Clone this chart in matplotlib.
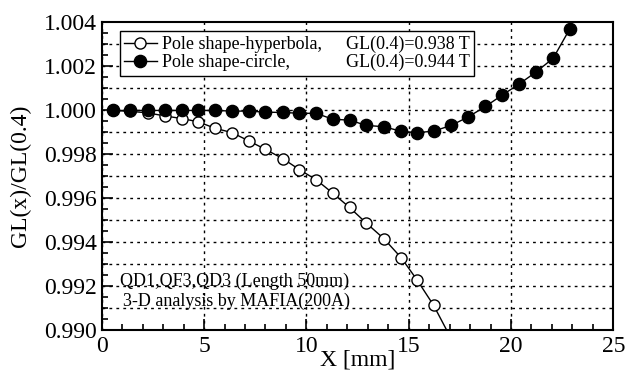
import matplotlib
matplotlib.use("Agg")
import numpy as np
import matplotlib.pyplot as plt
from matplotlib.lines import Line2D
from matplotlib.ticker import MultipleLocator, FormatStrFormatter

# position along x [mm]
x_mm = [0.53, 1.39, 2.24, 3.09, 3.92, 4.69, 5.54, 6.37, 7.22, 8.00,
        8.85, 9.66, 10.48, 11.29, 12.11, 12.93, 13.79, 14.64, 15.42, 16.22,
        17.08, 17.90, 18.75, 19.56, 20.38, 21.20, 22.06, 22.87]

# pole shape - circle (filled)
gl_circle = [0.99998, 0.99998, 0.99998, 0.99998, 0.99998, 0.99998, 0.99998, 0.99995,
             0.99995, 0.99990, 0.99989, 0.99985, 0.99985, 0.99958, 0.99954, 0.99930,
             0.99924, 0.99903, 0.99897, 0.99904, 0.99930, 0.99968, 1.00016, 1.00067,
             1.00117, 1.00171, 1.00235, 1.00368]

# pole shape - hyperbola (open), ends below the axis
gl_hyper = [0.99998, 0.99994, 0.99987, 0.99973, 0.99961, 0.99947, 0.99917, 0.99897,
            0.99858, 0.99821, 0.99779, 0.99729, 0.99683, 0.99622, 0.99557, 0.99486,
            0.99415, 0.99328, 0.99226, 0.99112, 0.98960]

plt.rcParams['font.family'] = ['Liberation Serif', 'DejaVu Serif']

fig = plt.figure(figsize=(6.28, 3.73), dpi=100)
ax = fig.add_axes([0.162, 0.1153, 0.8146, 0.8257])

h_hyp, = ax.plot(x_mm[:len(gl_hyper)], gl_hyper, color='black', lw=1.0,
                 marker='o', ms=8, mfc='white', mec='black', mew=1.0, zorder=3)
h_cir, = ax.plot(x_mm, gl_circle, color='black', lw=1.0,
                 marker='o', ms=8.8, mfc='black', mec='black', zorder=4)

ax.set_xlim(0, 25)
ax.set_ylim(0.990, 1.004)

ax.xaxis.set_major_locator(MultipleLocator(5))
ax.xaxis.set_minor_locator(MultipleLocator(1))
ax.yaxis.set_major_locator(MultipleLocator(0.002))
ax.yaxis.set_minor_locator(MultipleLocator(0.0005))
ax.yaxis.set_major_formatter(FormatStrFormatter('%.3f'))

ax.tick_params(axis='both', which='both', direction='in', top=False, right=False,
               labelsize=17, width=1.2)
ax.tick_params(axis='both', which='major', length=8)
ax.tick_params(axis='both', which='minor', length=4)
ax.tick_params(axis='x', pad=4)

# dotted grid: every 5 mm, every 0.001
ax.grid(True, which='major', axis='x', color='black', linestyle=(0, (2, 3)), lw=1.0)
for yg in np.arange(0.991, 1.0035, 0.001):
    ax.axhline(yg, color='black', linestyle=(0, (2, 3)), lw=1.0, zorder=1)
for s in ax.spines.values():
    s.set_linewidth(1.5)

ax.set_xlabel('X [mm]', fontsize=17, labelpad=-5)
ax.set_ylabel('GL(x)/GL(0.4)', fontsize=17, labelpad=9)

blank = Line2D([], [], linestyle='none', marker='none')
leg = ax.legend([h_hyp, h_cir, blank, blank],
                ['Pole shape-hyperbola,', 'Pole shape-circle,',
                 'GL(0.4)=0.938 T', 'GL(0.4)=0.944 T'],
                ncol=2, loc='upper left', bbox_to_anchor=(0.035, 0.97),
                fontsize=13, frameon=True, fancybox=False, edgecolor='black',
                framealpha=1, handlelength=1.8, handletextpad=0.3,
                columnspacing=-0.8, borderpad=0.25, labelspacing=0.05,
                borderaxespad=0)
leg.get_frame().set_linewidth(1.0)
leg.set_zorder(5)

ax.text(0.9, 0.9922, 'QD1,QF3,QD3 (Length 50mm)', fontsize=13, va='center', ha='left')
ax.text(1.05, 0.9913, '3-D analysis by MAFIA(200A)', fontsize=13, va='center', ha='left')

fig.savefig('out.png', dpi=100)
